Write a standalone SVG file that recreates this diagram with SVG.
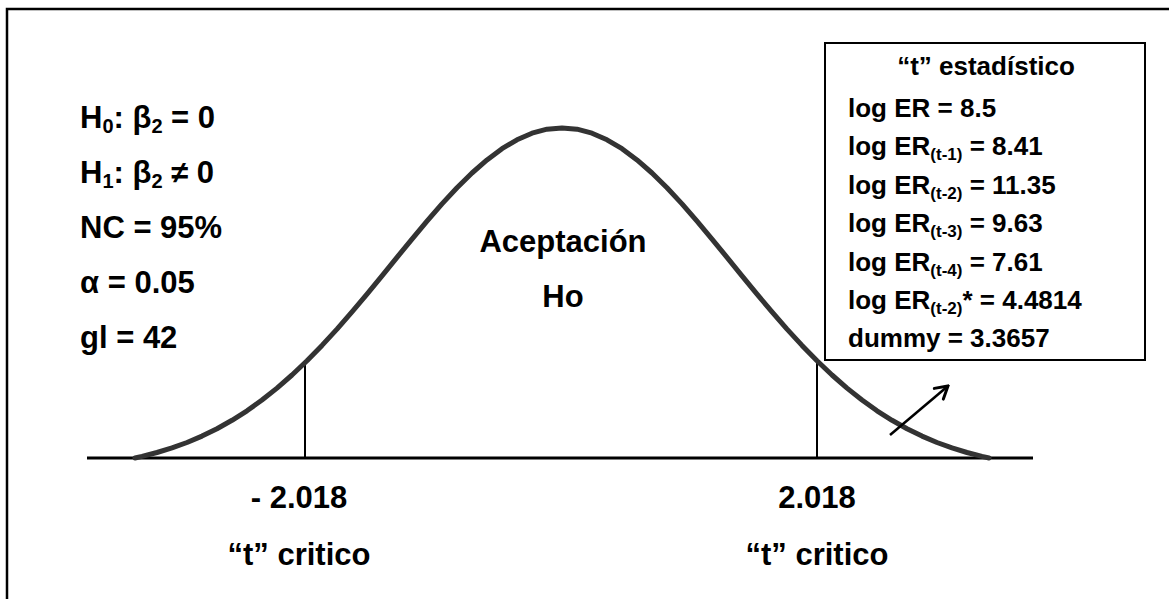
<svg xmlns="http://www.w3.org/2000/svg" width="1169" height="599" viewBox="0 0 1169 599">
<style>
text{font-family:"Liberation Sans",Arial,sans-serif;font-weight:bold;fill:#000}
.big{font-size:31px}
.box{font-size:26px}
.sub{font-size:20px}
.bsub{font-size:17px}
.c{text-anchor:middle}
</style>
<defs>
<marker id="arr" viewBox="0 0 16 18" refX="14" refY="9" markerWidth="16" markerHeight="18" markerUnits="userSpaceOnUse" orient="auto">
<path d="M2,2 L14,9 L2,16" fill="none" stroke="#000" stroke-width="3" stroke-linecap="round" stroke-linejoin="miter"/>
</marker>
</defs>
<rect width="1169" height="599" fill="#fff"/>
<g id="frame" fill="none" stroke="#000" stroke-width="2.5">
<path d="M7,599 V9 H1169"/>
</g>
<g id="axis" stroke="#000" fill="none">
<line x1="87" y1="458" x2="1033" y2="458" stroke-width="3"/>
<line x1="305" y1="363" x2="305" y2="458" stroke-width="2"/>
<line x1="817" y1="361" x2="817" y2="458" stroke-width="2"/>
</g>
<g id="curve">
<polyline fill="none" stroke="#333" stroke-width="5" stroke-linejoin="round" stroke-linecap="round" points="135,458 142,456.4 157,452.5 172,447.9 187,442.5 202,436.1 217,428.7 232,420.3 247,410.8 262,400 277,388.1 292,375 307,360.8 322,345.4 337,329.1 352,311.9 367,294.1 382,275.9 397,257.4 412,239.1 427,221.2 442,203.9 457,187.8 472,173 487,159.9 502,148.7 517,139.8 532,133.2 547,129.2 562,128 577,129.2 592,133.2 607,139.8 622,148.7 637,159.9 652,173 667,187.8 682,203.9 697,221.2 712,239.1 727,257.4 742,275.9 757,294.1 772,311.9 787,329.1 802,345.4 817,360.8 832,375 847,388.1 862,400 877,410.8 892,420.3 907,428.7 922,436.1 937,442.5 952,447.9 967,452.5 982,456.4 989,458"/>
</g>
<g id="connectors">
<line x1="890" y1="435" x2="948" y2="386" stroke="#000" stroke-width="2.5" marker-end="url(#arr)"/>
</g>
<g id="hypotheses">
<text class="big" x="80" y="128">H<tspan class="sub" dy="5">0</tspan><tspan dy="-5">: β</tspan><tspan class="sub" dy="5">2</tspan><tspan dy="-5"> = 0</tspan></text>
<text class="big" x="80" y="183">H<tspan class="sub" dy="5">1</tspan><tspan dy="-5">: β</tspan><tspan class="sub" dy="5">2</tspan><tspan dy="-5"> ≠ 0</tspan></text>
<text class="big" x="80" y="238">NC = 95%</text>
<text class="big" x="80" y="293">α = 0.05</text>
<text class="big" x="80" y="348">gl = 42</text>
</g>
<g id="acceptance">
<text class="big c" x="563" y="252">Aceptación</text>
<text class="big c" x="563" y="307">Ho</text>
</g>
<g id="critical-left">
<text class="big c" x="299" y="508">- 2.018</text>
<text class="big c" x="299" y="565">“t” critico</text>
</g>
<g id="critical-right">
<text class="big c" x="817" y="508">2.018</text>
<text class="big c" x="817" y="565">“t” critico</text>
</g>
<g id="stat-box">
<rect x="825" y="43" width="320" height="317" fill="#fff" stroke="#000" stroke-width="2"/>
<text class="box c" x="986" y="75">“t” estadístico</text>
<text class="box" x="848" y="117">log ER = 8.5</text>
<text class="box" x="848" y="155">log ER<tspan class="bsub" dy="5">(t-1)</tspan><tspan dy="-5"> = 8.41</tspan></text>
<text class="box" x="848" y="194">log ER<tspan class="bsub" dy="5">(t-2)</tspan><tspan dy="-5"> = 11.35</tspan></text>
<text class="box" x="848" y="232">log ER<tspan class="bsub" dy="5">(t-3)</tspan><tspan dy="-5"> = 9.63</tspan></text>
<text class="box" x="848" y="271">log ER<tspan class="bsub" dy="5">(t-4)</tspan><tspan dy="-5"> = 7.61</tspan></text>
<text class="box" x="848" y="309">log ER<tspan class="bsub" dy="5">(t-2)</tspan><tspan dy="-5">* = 4.4814</tspan></text>
<text class="box" x="848" y="347">dummy = 3.3657</text>
</g>
</svg>
